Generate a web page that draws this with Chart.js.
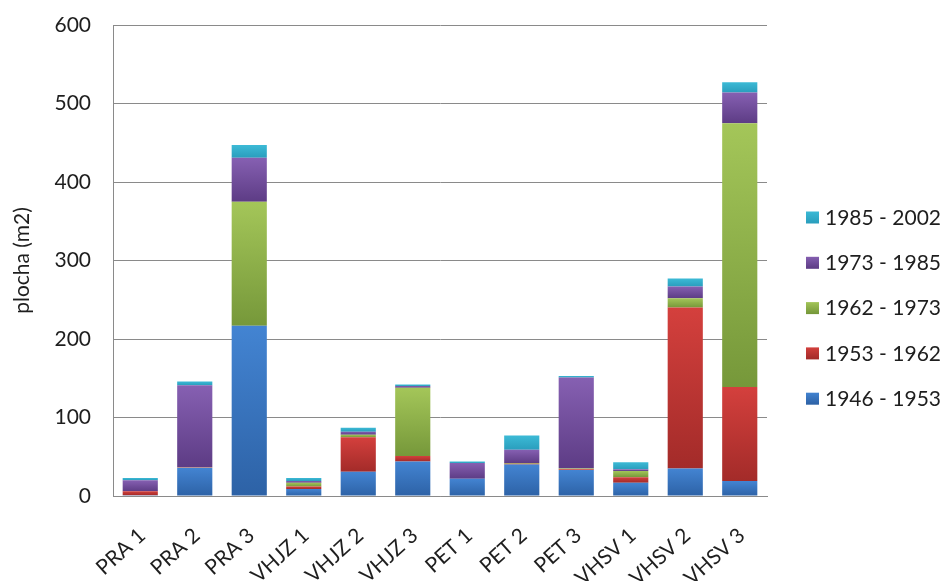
<!DOCTYPE html>
<html>
<head>
<meta charset="utf-8">
<script src="https://cdn.jsdelivr.net/npm/chart.js@4.4.1/dist/chart.umd.min.js"></script>
<style>
  html, body { margin: 0; padding: 0; background: #ffffff; }
  #wrap { width: 948px; height: 581px; position: relative; }
</style>
</head>
<body>
<div id="wrap"><canvas id="chart" width="948" height="581"></canvas></div>
<script>
// Sampling plots
const categories = ['PRA 1', 'PRA 2', 'PRA 3', 'VHJZ 1', 'VHJZ 2', 'VHJZ 3',
                    'PET 1', 'PET 2', 'PET 3', 'VHSV 1', 'VHSV 2', 'VHSV 3'];

// Area (m2) added in each period
const area1946_1953 = [1, 36, 217, 9, 31, 44, 22, 40, 33, 17, 35, 19];
const area1953_1962 = [5, 0.5, 0, 3, 44, 7, 0, 1, 1, 7, 205, 120];
const area1962_1973 = [0, 0.5, 158, 5, 3, 87, 0, 1, 1, 8, 12, 336];
const area1973_1985 = [14, 104, 56, 2, 4, 2, 20, 17, 116, 2, 15, 39];
const area1985_2002 = [3, 5, 16, 4, 5, 2, 2, 18, 2, 9, 10, 13];

const periodLabels = ['1946 - 1953', '1953 - 1962', '1962 - 1973', '1973 - 1985', '1985 - 2002'];
const yTicks = [0, 100, 200, 300, 400, 500, 600];

const seriesList = [area1946_1953, area1953_1962, area1962_1973, area1973_1985, area1985_2002];

// light (top) and dark (bottom) shade of each period colour
const shades = [
  ['#4384d2', '#2d62a6'],
  ['#d4403d', '#a32b29'],
  ['#a4c659', '#76983a'],
  ['#8660b2', '#5d3c85'],
  ['#3cbad6', '#2a9ebd']
];

const FONT = 'Lato, "Open Sans", "DejaVu Sans", sans-serif';
const TEXT = '#1e1e1e';
const GRID = '#8a8a8a';

function segmentFill(ctx) {
  const chart = ctx.chart;
  const d = ctx.datasetIndex;
  const y = chart.scales.y;
  if (!chart.chartArea || ctx.type !== 'data' || !y) return shades[d][0];
  const i = ctx.dataIndex;
  let base = 0;
  for (let k = 0; k < d; k++) base += seriesList[k][i];
  const top = base + seriesList[d][i];
  const y0 = y.getPixelForValue(top);
  const y1 = y.getPixelForValue(base);
  if (Math.abs(y1 - y0) < 0.5) return shades[d][0];
  const g = chart.ctx.createLinearGradient(0, y0, 0, y1);
  g.addColorStop(0, shades[d][0]);
  g.addColorStop(1, shades[d][1]);
  return g;
}

const datasets = seriesList.map((values, d) => ({
  label: periodLabels[d],
  data: values,
  backgroundColor: segmentFill,
  borderWidth: 0,
  barPercentage: 0.645,
  categoryPercentage: 1.0
}));

// Legend on the right, newest period at the top
const sideLegend = {
  id: 'sideLegend',
  afterDraw(chart) {
    const c = chart.ctx;
    c.save();
    c.font = '21px ' + FONT;
    c.textBaseline = 'middle';
    c.textAlign = 'left';
    const order = chart.data.datasets.map((ds, i) => i).reverse();
    order.forEach((dsIndex, row) => {
      const cy = 217 + row * 45.3;
      const g = c.createLinearGradient(0, cy - 6, 0, cy + 6);
      g.addColorStop(0, shades[dsIndex][0]);
      g.addColorStop(1, shades[dsIndex][1]);
      c.fillStyle = g;
      c.fillRect(806, cy - 5.5, 13, 12);
      c.fillStyle = TEXT;
      c.fillText(chart.data.datasets[dsIndex].label, 825, cy + 1);
    });
    c.restore();
  }
};

new Chart(document.getElementById('chart'), {
  type: 'bar',
  data: { labels: categories, datasets },
  options: {
    responsive: false,
    animation: false,
    devicePixelRatio: 1,
    layout: { padding: { top: 25, right: 181, bottom: 0, left: 0 } },
    plugins: {
      legend: { display: false },
      tooltip: { enabled: false }
    },
    scales: {
      x: {
        stacked: true,
        afterFit(scale) { scale.height = 85; },
        grid: { display: false, drawTicks: false },
        border: { display: true, color: GRID, width: 1 },
        ticks: {
          color: TEXT,
          font: { family: FONT, size: 21 },
          minRotation: 42,
          maxRotation: 42,
          padding: 27,
          labelOffset: 2,
          autoSkip: false
        }
      },
      y: {
        stacked: true,
        min: 0,
        max: 600,
        afterFit(scale) {
          scale.width = 113;
          scale.paddingTop = 0;
          scale.paddingBottom = 0;
        },
        afterBuildTicks(scale) { scale.ticks = yTicks.map(v => ({ value: v })); },
        grid: { color: GRID, lineWidth: 1, drawTicks: false },
        border: { display: true, color: GRID, width: 1 },
        ticks: {
          color: TEXT,
          font: { family: FONT, size: 21 },
          padding: 22
        },
        title: {
          display: true,
          text: 'plocha (m2)',
          color: TEXT,
          font: { family: FONT, size: 21 },
          padding: { top: 10, bottom: 0 }
        }
      }
    }
  },
  plugins: [sideLegend]
});
</script>
</body>
</html>
